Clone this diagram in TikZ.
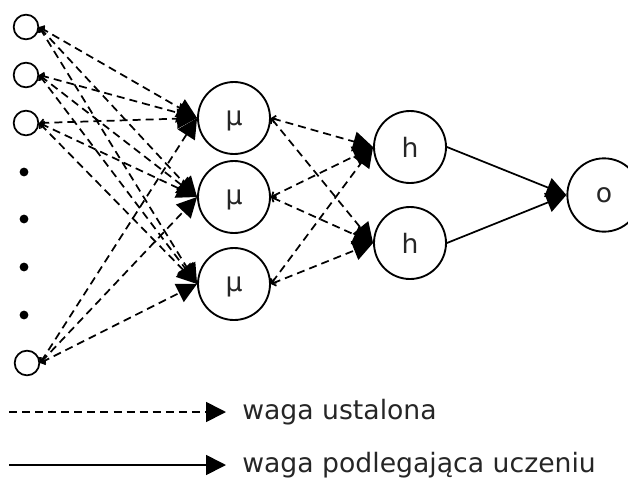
\documentclass[tikz,border=0pt]{standalone}
\usepackage{fontspec}
\setmainfont{DejaVu Sans}
\usetikzlibrary{arrows.meta}

\begin{document}
\begin{tikzpicture}[x=0.75pt, y=-0.75pt,
        every node/.style={font=\fontsize{20}{24}\selectfont, text=black!85},
        neuron/.style={draw, circle, line width=1.4pt, minimum size=54pt, inner sep=0pt},
        input/.style={draw, circle, line width=1.3pt, minimum size=18.5pt, inner sep=0pt},
        dashline/.style={line width=1.3pt, dash pattern=on 6pt off 3.8pt},
        fixed/.style={dashline,
            {Straight Barb[length=2.5pt,width=5.5pt]}-{Triangle[length=15pt,width=15pt]}},
        learn/.style={line width=1.3pt, -{Triangle[length=15pt,width=15pt]}}]
    \useasboundingbox (0,0) rectangle (628,482);

    \node[input] (i1) at (26,27) {};
    \node[input] (i2) at (26,75) {};
    \node[input] (i3) at (26,123) {};
    \node[input] (i4) at (27,363) {};
    \foreach \y in {172,219,267,315}
        \fill (24,\y) circle (3.3pt);

    \node[neuron, text depth=0pt] (m1) at (234,118) {µ};
    \node[neuron, text depth=0pt] (m2) at (234,197) {µ};
    \node[neuron, text depth=0pt] (m3) at (234,284) {µ};

    \node[neuron] (h1) at (410,147) {h};
    \node[neuron] (h2) at (410,243) {h};

    \node[neuron, minimum size=55pt] (o) at (604,195) {o};

    \foreach \i in {i1,i2,i3,i4}
        \foreach \m in {m1,m2,m3}
            \draw[fixed] (\i.east) -- (\m.west);
    \foreach \m in {m1,m2,m3}
        \foreach \h in {h1,h2}
            \draw[fixed] (\m.east) -- (\h.west);
    \draw[learn] (h1.east) -- (o.west);
    \draw[learn] (h2.east) -- (o.west);

    % legenda
    \coordinate (a0) at (9,412);
    \coordinate (a1) at (226,412);
    \coordinate (b0) at (9,465);
    \coordinate (b1) at (226,465);
    \draw[dashline, -{Triangle[length=15pt,width=15pt]}] (a0) -- (a1);
    \draw[learn] (b0) -- (b1);
    \node[anchor=west, inner sep=0pt] (la) at (242,412) {waga ustalona};
    \node[anchor=west, inner sep=0pt] (lb) at (242,465) {waga podlegająca uczeniu};
\end{tikzpicture}
\end{document}
